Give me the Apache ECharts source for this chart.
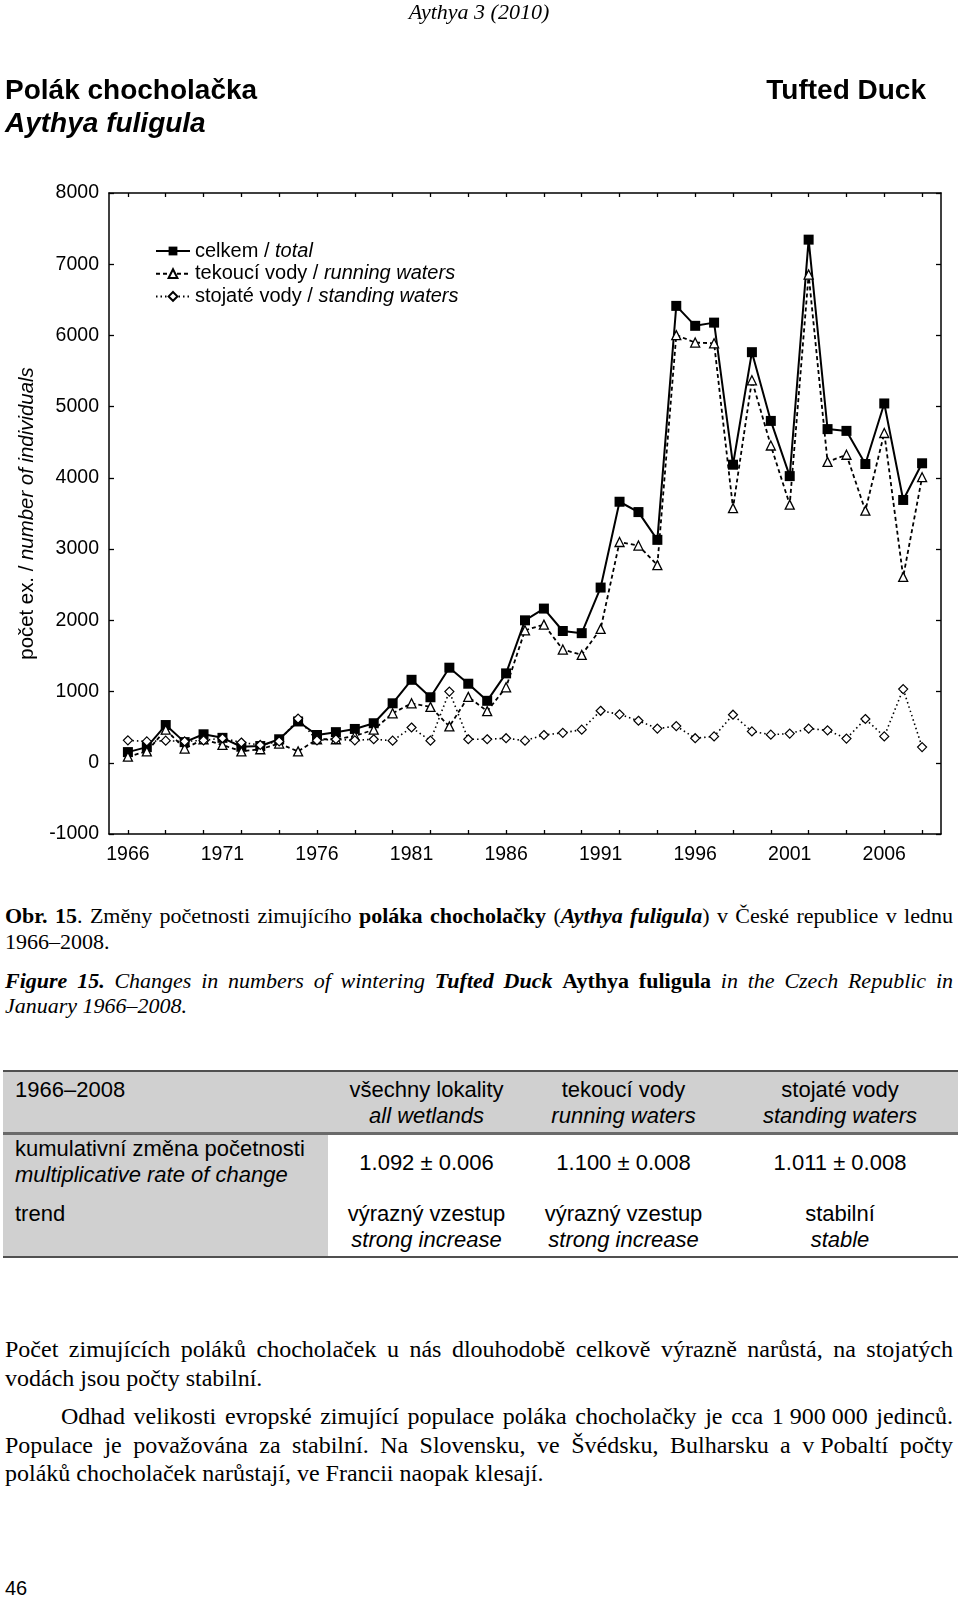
<!DOCTYPE html>
<html><head><meta charset="utf-8">
<script src="https://cdn.jsdelivr.net/npm/echarts@6/dist/echarts.min.js"></script>
<style>
html,body{margin:0;padding:0;background:#fff;}
body{width:960px;height:1599px;position:relative;overflow:hidden;color:#000;}
.a{position:absolute;white-space:nowrap;}
.sans{font-family:"Liberation Sans",Arial,sans-serif;}
.serif{font-family:"Liberation Serif","Times New Roman",serif;}
.j{position:absolute;white-space:nowrap;}
.j > span{white-space:nowrap;}
.nw{word-spacing:0;}
.cell{position:absolute;text-align:center;white-space:nowrap;font-family:"Liberation Sans",Arial,sans-serif;font-size:22px;line-height:26px;}
.bar{position:absolute;}
</style></head><body>
<div id="chart" style="position:absolute;left:0;top:0;width:960px;height:900px;"></div>

<div class="a serif" style="left:0;width:958px;text-align:center;top:0;font-size:22px;line-height:24px;font-style:italic">Aythya 3 (2010)</div>
<div class="a sans" style="left:5px;top:75px;font-size:28px;line-height:30px;font-weight:bold">Polák chocholačka</div>
<div class="a sans" style="left:5px;top:108px;font-size:28px;line-height:30px;font-weight:bold;font-style:italic">Aythya fuligula</div>
<div class="a sans" style="right:34px;top:75px;font-size:28px;line-height:30px;font-weight:bold">Tufted Duck</div>

<div class="j serif" data-w="948" style="left:5px;top:903px;font-size:22px;line-height:26px"><span><b>Obr. 15</b>. Změny početnosti zimujícího <b>poláka chocholačky</b> (<b><i>Aythya fuligula</i></b>) v České republice v lednu</span></div>
<div class="a serif" style="left:5px;top:929px;font-size:22px;line-height:26px">1966–2008.</div>
<div class="j serif" data-w="948" style="left:5px;top:968px;font-size:22px;line-height:26px"><span><i><b>Figure 15.</b> Changes in numbers of wintering <b>Tufted Duck</b></i> <b>Aythya fuligula</b> <i>in the Czech Republic in</i></span></div>
<div class="a serif" style="left:5px;top:993px;font-size:22px;line-height:26px;font-style:italic">January 1966–2008.</div>

<div class="bar" style="left:3px;width:955px;top:1072px;height:60px;background:#d0d0d0"></div>
<div class="bar" style="left:3px;width:325px;top:1135px;height:121px;background:#d0d0d0"></div>
<div class="bar" style="left:3px;width:955px;top:1070px;height:2px;background:#505050"></div>
<div class="bar" style="left:3px;width:955px;top:1132px;height:3px;background:#6a6a6a"></div>
<div class="bar" style="left:3px;width:955px;top:1256px;height:2px;background:#505050"></div>

<div class="cell" style="left:15px;top:1077px;text-align:left">1966–2008</div>
<div class="cell" style="left:328px;width:197px;top:1077px">všechny lokality<br><i>all wetlands</i></div>
<div class="cell" style="left:525px;width:197px;top:1077px">tekoucí vody<br><i>running waters</i></div>
<div class="cell" style="left:722px;width:236px;top:1077px">stojaté vody<br><i>standing waters</i></div>
<div class="cell" style="left:15px;top:1136px;text-align:left">kumulativní změna početnosti<br><i>multiplicative rate of change</i></div>
<div class="cell" style="left:328px;width:197px;top:1150px">1.092 ± 0.006</div>
<div class="cell" style="left:525px;width:197px;top:1150px">1.100 ± 0.008</div>
<div class="cell" style="left:722px;width:236px;top:1150px">1.011 ± 0.008</div>
<div class="cell" style="left:15px;top:1201px;text-align:left">trend</div>
<div class="cell" style="left:328px;width:197px;top:1201px">výrazný vzestup<br><i>strong increase</i></div>
<div class="cell" style="left:525px;width:197px;top:1201px">výrazný vzestup<br><i>strong increase</i></div>
<div class="cell" style="left:722px;width:236px;top:1201px">stabilní<br><i>stable</i></div>

<div class="j serif" data-w="948" style="left:5px;top:1335px;font-size:24px;line-height:28px"><span>Počet zimujících poláků chocholaček u nás dlouhodobě celkově výrazně narůstá, na stojatých</span></div>
<div class="a serif" style="left:5px;top:1364px;font-size:24px;line-height:28px">vodách jsou počty stabilní.</div>
<div class="j serif" data-w="892" style="left:61px;top:1402px;font-size:24px;line-height:28px"><span>Odhad velikosti evropské zimující populace poláka chocholačky je cca <span class="nw">1&nbsp;900&nbsp;000</span> jedinců.</span></div>
<div class="j serif" data-w="948" style="left:5px;top:1431px;font-size:24px;line-height:28px"><span>Populace je považována za stabilní. Na Slovensku, ve Švédsku, Bulharsku a <span class="nw">v&nbsp;Pobaltí</span> počty</span></div>
<div class="a serif" style="left:5px;top:1459px;font-size:24px;line-height:28px">poláků chocholaček narůstají, ve Francii naopak klesají.</div>

<div class="a sans" style="left:5px;top:1576px;font-size:20px;line-height:24px">46</div>

<script>
// ---- data ----
const years = [1966,1967,1968,1969,1970,1971,1972,1973,1974,1975,1976,1977,1978,1979,1980,1981,1982,1983,1984,1985,1986,1987,1988,1989,1990,1991,1992,1993,1994,1995,1996,1997,1998,1999,2000,2001,2002,2003,2004,2005,2006,2007,2008];
const total = [150,220,530,290,400,350,225,235,330,580,390,430,475,555,835,1165,920,1335,1110,870,1255,2000,2165,1850,1820,2460,3665,3520,3130,6415,6135,6180,4185,5765,4800,4025,7345,4685,4660,4195,5045,3690,4205];
const running = [85,160,465,200,330,250,160,190,270,160,330,330,375,465,695,835,785,510,925,725,1060,1860,1940,1590,1515,1880,3100,3050,2775,6005,5900,5890,3575,5370,4455,3625,6855,4225,4325,3540,4630,2610,4010];
const standing = [315,300,310,300,315,345,285,250,300,620,315,330,315,330,310,495,310,1000,330,330,345,310,390,420,465,730,680,590,480,515,345,370,675,440,395,410,480,455,340,615,370,1035,220];
const xLabelYears = [1966,1971,1976,1981,1986,1991,1996,2001,2006];
const xTickYears = [1966,1968,1970,1972,1974,1976,1978,1980,1982,1984,1986,1988,1990,1992,1994,1996,1998,2000,2002,2004,2006,2008];
const seriesNames = ['celkem / total','tekoucí vody / running waters','stojaté vody / standing waters'];
const yAxisName = ['počet ex. / ','number of individuals'];

// ---- justify helper for text lines ----
document.querySelectorAll('.j').forEach(function(el){
  const sp = el.firstElementChild;
  const target = parseFloat(el.getAttribute('data-w'));
  const w = sp.getBoundingClientRect().width;
  const n = (sp.textContent.match(/ /g) || []).length;
  if (n > 0) sp.style.wordSpacing = ((target - w) / n) + 'px';
});

// ---- chart ----
const font = '"Liberation Sans", Arial, sans-serif';
const chart = echarts.init(document.getElementById('chart'), null, {renderer: 'canvas'});
const lineBlack = {color: '#000', width: 1.5};
const tickStyle = {show: true, inside: true, length: 4, customValues: xTickYears, lineStyle: {color: '#000', width: 1.3}};
const pairs = arr => years.map((y, i) => [y, arr[i]]);

chart.setOption({
  animation: false,
  grid: {left: 109, right: 19, top: 193, bottom: 66, containLabel: false},
  xAxis: [
    {type: 'value', min: 1965, max: 2009, interval: 1, position: 'bottom',
     splitLine: {show: false},
     axisLine: {show: true, onZero: false, lineStyle: lineBlack},
     axisTick: tickStyle,
     axisLabel: {customValues: xLabelYears, margin: 11, fontSize: 19.5, fontFamily: font, color: '#000', formatter: v => String(v)}},
    {type: 'value', min: 1965, max: 2009, interval: 1, position: 'top',
     splitLine: {show: false},
     axisLine: {show: true, onZero: false, lineStyle: lineBlack},
     axisTick: tickStyle,
     axisLabel: {show: false}}
  ],
  yAxis: [
    {type: 'value', min: -1000, max: 8000, interval: 1000, position: 'left',
     name: '{n|' + yAxisName[0] + '}{i|' + yAxisName[1] + '}',
     nameLocation: 'middle', nameRotate: 90, nameGap: 72,
     nameTextStyle: {fontFamily: font, fontSize: 20.4, color: '#000',
       rich: {n: {fontFamily: font, fontSize: 20.4, color: '#000'},
              i: {fontFamily: font, fontSize: 20.4, color: '#000', fontStyle: 'italic'}}},
     splitLine: {show: false},
     axisLine: {show: true, onZero: false, lineStyle: lineBlack},
     axisTick: {show: true, inside: true, length: 5, lineStyle: {color: '#000', width: 1.3}},
     axisLabel: {margin: 10, fontSize: 19.5, fontFamily: font, color: '#000', formatter: v => String(v)}},
    {type: 'value', min: -1000, max: 8000, interval: 1000, position: 'right',
     splitLine: {show: false},
     axisLine: {show: true, onZero: false, lineStyle: lineBlack},
     axisTick: {show: true, inside: true, length: 5, lineStyle: {color: '#000', width: 1.3}},
     axisLabel: {show: false}}
  ],
  legend: {
    orient: 'vertical', left: 150, top: 236, itemWidth: 34, itemHeight: 11, itemGap: 2.7,
    selectedMode: false, data: seriesNames,
    formatter: function(name){ const p = name.split(' / '); return '{n|' + p[0] + ' / }{i|' + p[1] + '}'; },
    textStyle: {fontFamily: font, fontSize: 20, color: '#000',
      rich: {n: {fontFamily: font, fontSize: 20, color: '#000', lineHeight: 20},
             i: {fontFamily: font, fontSize: 20, color: '#000', fontStyle: 'italic', lineHeight: 20}}}
  },
  series: [
    {name: seriesNames[0], type: 'line', data: pairs(total), symbol: 'rect', symbolSize: 10,
     itemStyle: {color: '#000'}, lineStyle: {color: '#000', width: 2, type: 'solid'},
     emphasis: {disabled: true}, z: 3},
    {name: seriesNames[1], type: 'line', data: pairs(running), symbol: 'triangle', symbolSize: 9,
     itemStyle: {color: '#fff', borderColor: '#000', borderWidth: 1.3},
     lineStyle: {color: '#000', width: 1.8, type: [4, 3]},
     emphasis: {disabled: true}, z: 4},
    {name: seriesNames[2], type: 'line', data: pairs(standing), symbol: 'diamond', symbolSize: 9,
     itemStyle: {color: '#fff', borderColor: '#000', borderWidth: 1.2},
     lineStyle: {color: '#000', width: 1.6, type: [1.5, 3]},
     emphasis: {disabled: true}, z: 5}
  ]
});
</script>
</body></html>
